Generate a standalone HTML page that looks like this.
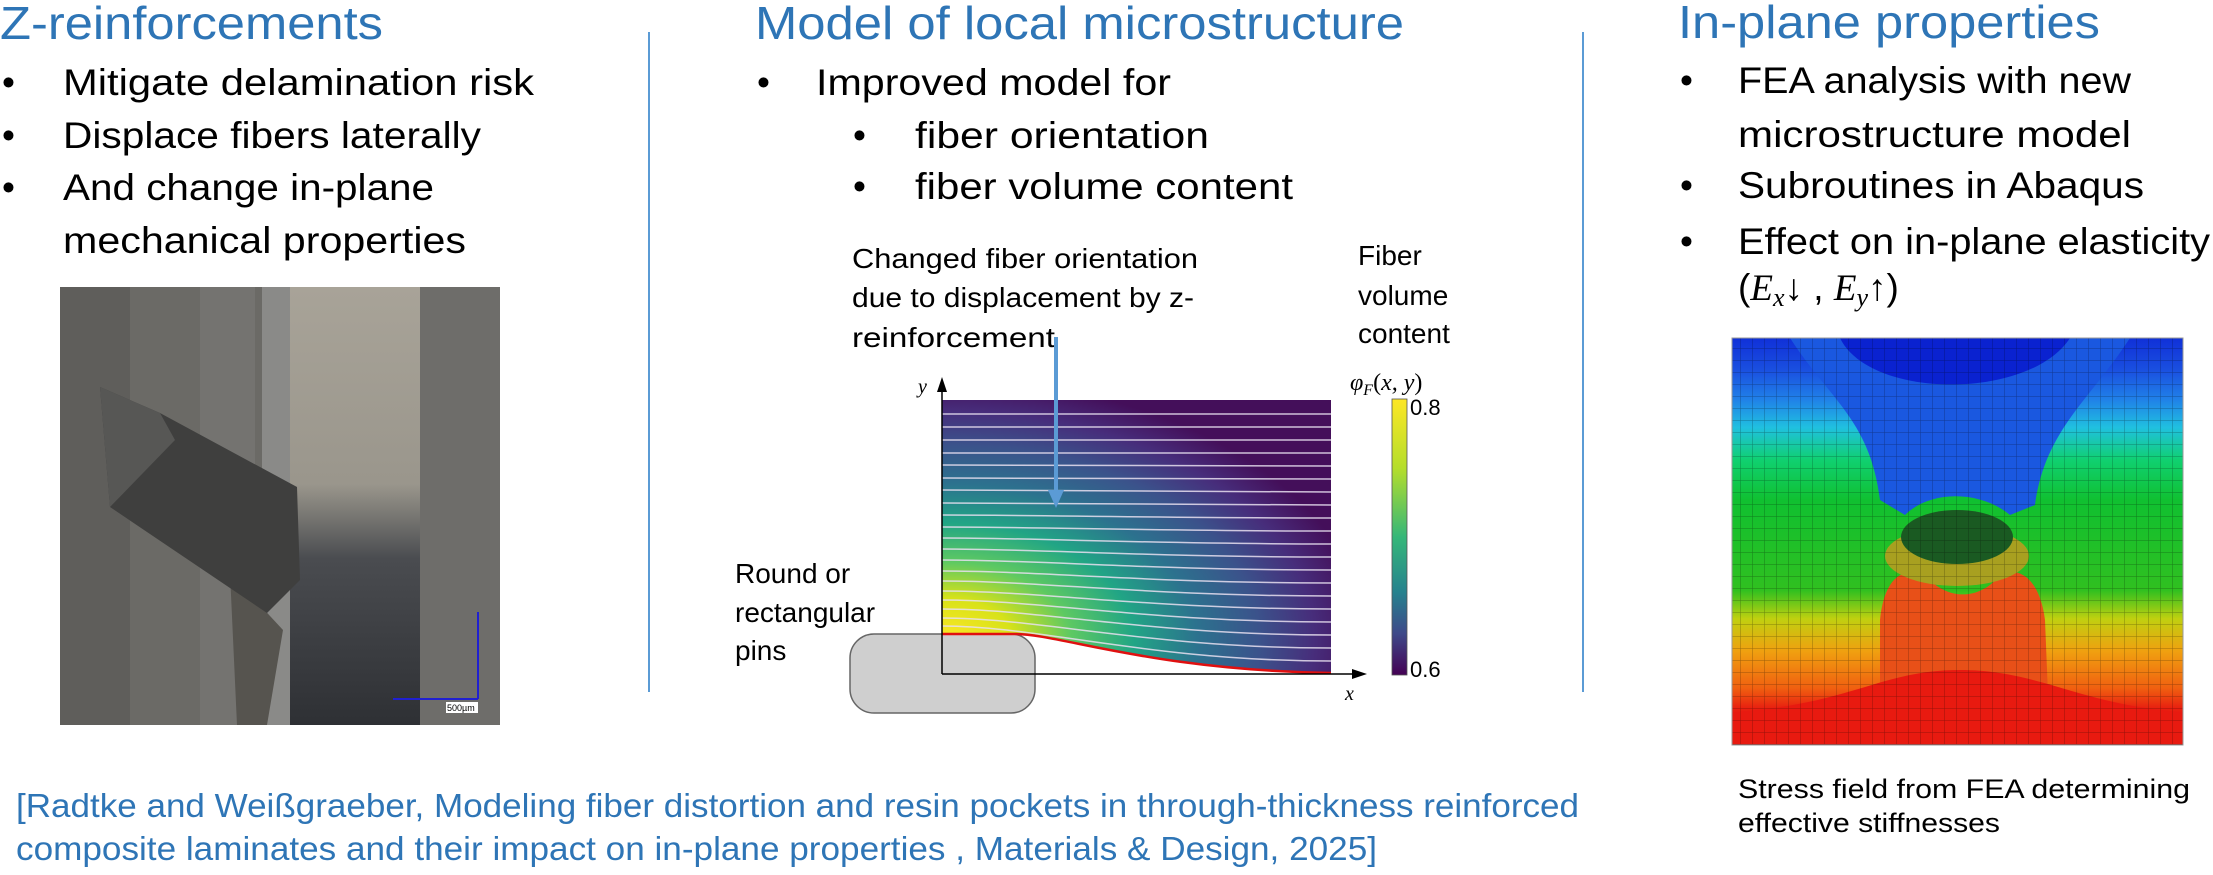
<!DOCTYPE html>
<html><head><meta charset="utf-8"><style>
html,body{margin:0;padding:0;background:#fff;}
svg{display:block;}
text{font-family:"Liberation Sans",Arial,sans-serif;}
.t{fill:#2e75b6;font-size:46px;}
.b{fill:#000;font-size:37px;}
.s{fill:#000;font-size:28px;}
.c{fill:#2e75b6;font-size:33px;}
.m{font-family:"Liberation Serif",serif;font-style:italic;}
</style></head><body>
<svg width="2213" height="875" viewBox="0 0 2213 875" xmlns="http://www.w3.org/2000/svg">
<defs>
<radialGradient id="vir" gradientUnits="userSpaceOnUse" cx="945" cy="640" r="420" gradientTransform="translate(945 640) scale(1 0.62) translate(-945 -640)">
<stop offset="0" stop-color="#fde725"/><stop offset="0.16" stop-color="#d8e219"/><stop offset="0.3" stop-color="#5ec962"/><stop offset="0.45" stop-color="#21a585"/><stop offset="0.6" stop-color="#2c728e"/><stop offset="0.75" stop-color="#3b528b"/><stop offset="0.88" stop-color="#472d7b"/><stop offset="1" stop-color="#440f5a"/>
</radialGradient>
<linearGradient id="cb" x1="0" y1="0" x2="0" y2="1">
<stop offset="0" stop-color="#fde725"/><stop offset="0.25" stop-color="#b5de2b"/><stop offset="0.5" stop-color="#35b779"/><stop offset="0.7" stop-color="#26828e"/><stop offset="0.85" stop-color="#3e4989"/><stop offset="1" stop-color="#440154"/>
</linearGradient>
<linearGradient id="fea" x1="0" y1="0" x2="0" y2="1">
<stop offset="0" stop-color="#1030d8"/><stop offset="0.08" stop-color="#1a50e0"/><stop offset="0.15" stop-color="#2080e8"/><stop offset="0.22" stop-color="#20c0e0"/><stop offset="0.3" stop-color="#10d070"/><stop offset="0.4" stop-color="#10c030"/><stop offset="0.62" stop-color="#30c020"/><stop offset="0.69" stop-color="#c0d010"/><stop offset="0.77" stop-color="#f0a010"/><stop offset="0.86" stop-color="#f06010"/><stop offset="0.91" stop-color="#e82010"/><stop offset="1" stop-color="#e01010"/>
</linearGradient>
<linearGradient id="band" x1="0" y1="0" x2="0" y2="1">
<stop offset="0" stop-color="#a8a398"/><stop offset="0.45" stop-color="#9a968c"/><stop offset="0.62" stop-color="#4a4c50"/><stop offset="1" stop-color="#2e3034"/>
</linearGradient>
<pattern id="mesh" width="12" height="12" patternUnits="userSpaceOnUse"><path d="M0 0H12M0 0V12" stroke="rgba(0,0,0,0.35)" stroke-width="1" fill="none"/></pattern>
<clipPath id="feaclip"><rect x="1732" y="338" width="451" height="407"/></clipPath>
</defs>

<!-- dividers -->
<line x1="649" y1="32" x2="649" y2="692" stroke="#5b9bd5" stroke-width="2"/>
<line x1="1583" y1="32" x2="1583" y2="692" stroke="#5b9bd5" stroke-width="2"/>

<!-- left column -->
<text class="t" x="0" y="39" textLength="383" lengthAdjust="spacingAndGlyphs">Z-reinforcements</text>
<text class="b" x="2" y="95">•</text><text class="b" x="63" y="95" textLength="471" lengthAdjust="spacingAndGlyphs">Mitigate delamination risk</text>
<text class="b" x="2" y="148">•</text><text class="b" x="63" y="148" textLength="418" lengthAdjust="spacingAndGlyphs">Displace fibers laterally</text>
<text class="b" x="2" y="200">•</text><text class="b" x="63" y="200" textLength="371" lengthAdjust="spacingAndGlyphs">And change in-plane</text>
<text class="b" x="63" y="253" textLength="403" lengthAdjust="spacingAndGlyphs">mechanical properties</text>

<!-- photo -->
<rect x="60" y="287" width="440" height="438" fill="#6b6a66"/>
<rect x="60" y="287" width="70" height="438" fill="#5f5e5b"/>
<rect x="200" y="287" width="55" height="438" fill="#747370"/>
<rect x="262" y="287" width="30" height="438" fill="#8a8a88"/>
<rect x="290" y="287" width="130" height="438" fill="url(#band)"/>
<rect x="420" y="287" width="80" height="438" fill="#6e6d6a"/>
<polygon points="230,573 283,630 267,725 237,725" fill="#56544f"/>
<polygon points="100,387 160,413 297,487 300,580 267,613 110,507" fill="#3f3f3e"/>
<polygon points="100,387 160,413 175,440 110,507" fill="#575755"/>
<line x1="478" y1="612" x2="478" y2="699" stroke="#2020d0" stroke-width="2"/>
<line x1="393" y1="699" x2="478" y2="699" stroke="#2020d0" stroke-width="2"/>
<rect x="446" y="702" width="32" height="11" fill="#fff"/>
<text x="447" y="711" font-size="9" fill="#000">500µm</text>

<!-- middle column -->
<text class="t" x="755" y="39" textLength="649" lengthAdjust="spacingAndGlyphs">Model of local microstructure</text>
<text class="b" x="757" y="95">•</text><text class="b" x="816" y="95" textLength="355" lengthAdjust="spacingAndGlyphs">Improved model for</text>
<text class="b" x="853" y="148">•</text><text class="b" x="915" y="148" textLength="294" lengthAdjust="spacingAndGlyphs">fiber orientation</text>
<text class="b" x="853" y="199">•</text><text class="b" x="915" y="199" textLength="378" lengthAdjust="spacingAndGlyphs">fiber volume content</text>

<text class="s" x="852" y="268" textLength="346" lengthAdjust="spacingAndGlyphs">Changed fiber orientation</text>
<text class="s" x="852" y="307" textLength="342" lengthAdjust="spacingAndGlyphs">due to displacement by z-</text>
<text class="s" x="852" y="347" textLength="203" lengthAdjust="spacingAndGlyphs">reinforcement</text>
<text class="s" x="1358" y="265">Fiber</text>
<text class="s" x="1358" y="305">volume</text>
<text class="s" x="1358" y="343">content</text>
<text class="s" x="735" y="583">Round or</text>
<text class="s" x="735" y="622">rectangular</text>
<text class="s" x="735" y="660">pins</text>

<!-- pin -->
<rect x="850" y="634" width="185" height="79" rx="24" fill="#cfcfcf" stroke="#666" stroke-width="1.5"/>
<!-- plot -->
<path d="M942,400 L1331,400 L1331,673 C1150,670 1060,634 1015,634 L942,634 Z" fill="url(#vir)"/>
<g stroke="#e8e0f0" stroke-width="1.5" fill="none" opacity="0.85">
<path d="M942,414 H1331"/><path d="M942,427 H1331"/><path d="M942,440 H1331"/><path d="M942,453 H1331"/>
<path d="M942,465 C1040,465 1150,466 1331,466"/>
<path d="M942,478 C1040,478 1150,479 1331,479"/>
<path d="M942,490 C1040,490 1150,492 1331,492"/>
<path d="M942,503 C1040,503 1150,505 1331,505"/>
<path d="M942,515 C1040,515 1150,518 1331,518"/>
<path d="M942,527 C1040,527 1150,531 1331,531"/>
<path d="M942,538 C1040,538 1150,544 1331,544"/>
<path d="M942,549 C1040,549 1150,557 1331,557"/>
<path d="M942,560 C1040,560 1150,570 1331,570"/>
<path d="M942,571 C1040,571 1150,583 1331,583"/>
<path d="M942,581 C1040,581 1150,596 1331,596"/>
<path d="M942,591 C1040,591 1150,609 1331,609"/>
<path d="M942,600 C1040,600 1150,622 1331,622"/>
<path d="M942,609 C1040,609 1150,635 1331,635"/>
<path d="M942,618 C1040,618 1150,648 1331,648"/>
<path d="M942,626 C1040,626 1150,661 1331,661"/>
</g>
<path d="M942,634 L1015,634 C1060,634 1150,670 1331,673" stroke="#e01010" stroke-width="2.5" fill="none"/>
<line x1="942" y1="674" x2="942" y2="388" stroke="#000" stroke-width="1.5"/>
<polygon points="942,377 937,392 947,392" fill="#000"/>
<line x1="942" y1="674" x2="1357" y2="674" stroke="#000" stroke-width="1.5"/>
<polygon points="1367,674 1352,669 1352,679" fill="#000"/>
<text class="m" x="918" y="393" font-size="20">y</text>
<text class="m" x="1345" y="700" font-size="20">x</text>
<!-- colorbar -->
<rect x="1392" y="399" width="15" height="276" fill="url(#cb)" stroke="#555" stroke-width="0.8"/>
<text class="m" x="1350" y="390" font-size="24">φ<tspan font-size="16" dy="5">F</tspan><tspan dy="-5" font-style="normal">(</tspan>x, y<tspan font-style="normal">)</tspan></text>
<text x="1410" y="415" font-family="Liberation Serif,serif" font-size="22">0.8</text>
<text x="1410" y="677" font-family="Liberation Serif,serif" font-size="22">0.6</text>
<!-- blue arrow -->
<line x1="1056" y1="337" x2="1056" y2="495" stroke="#5b9bd5" stroke-width="4"/>
<polygon points="1056,508 1048,490 1064,490" fill="#5b9bd5"/>

<!-- right column -->
<text class="t" x="1678" y="38" textLength="422" lengthAdjust="spacingAndGlyphs">In-plane properties</text>
<text class="b" x="1680" y="93">•</text><text class="b" x="1738" y="93" textLength="393" lengthAdjust="spacingAndGlyphs">FEA analysis with new</text>
<text class="b" x="1738" y="147" textLength="393" lengthAdjust="spacingAndGlyphs">microstructure model</text>
<text class="b" x="1680" y="198">•</text><text class="b" x="1738" y="198" textLength="406" lengthAdjust="spacingAndGlyphs">Subroutines in Abaqus</text>
<text class="b" x="1680" y="254">•</text><text class="b" x="1738" y="254" textLength="472" lengthAdjust="spacingAndGlyphs">Effect on in-plane elasticity</text>
<text class="b" x="1738" y="300">(<tspan class="m">E</tspan><tspan class="m" font-size="26" dy="6">x</tspan><tspan dy="-6">↓ , </tspan><tspan class="m">E</tspan><tspan class="m" font-size="26" dy="6">y</tspan><tspan dy="-6">↑)</tspan></text>

<!-- FEA -->
<g clip-path="url(#feaclip)">
<rect x="1732" y="338" width="451" height="407" fill="url(#fea)"/>
<path d="M1790,338 C1830,400 1870,420 1880,500 L1905,515 C1930,490 1980,490 2010,515 L2035,505 C2045,430 2090,400 2130,338 Z" fill="#1a58e0"/>
<path d="M1840,338 C1870,400 2030,400 2070,338 Z" fill="#0a22d0"/>
<path d="M1880,745 L1880,620 C1885,570 1910,565 1930,580 C1950,600 1980,600 2000,575 C2020,565 2040,580 2045,620 L2050,745 Z" fill="#e85018"/>
<path d="M1732,745 L1732,712 C1850,705 1880,670 1960,670 C2040,670 2080,705 2183,712 L2183,745 Z" fill="#e81a10"/>
<ellipse cx="1957" cy="556" rx="72" ry="30" fill="#a8a020"/>
<ellipse cx="1957" cy="537" rx="56" ry="27" fill="#1a5a22"/>
<rect x="1732" y="338" width="451" height="407" fill="url(#mesh)"/>
</g>
<rect x="1732" y="338" width="451" height="407" fill="none" stroke="#999" stroke-width="1"/>
<text x="1738" y="798" font-size="27" textLength="452" lengthAdjust="spacingAndGlyphs">Stress field from FEA determining</text>
<text x="1738" y="832" font-size="27" textLength="262" lengthAdjust="spacingAndGlyphs">effective stiffnesses</text>

<!-- citation -->
<text class="c" x="16" y="817" textLength="1563" lengthAdjust="spacingAndGlyphs">[Radtke and Weißgraeber, Modeling fiber distortion and resin pockets in through-thickness reinforced</text>
<text class="c" x="16" y="860" textLength="1361" lengthAdjust="spacingAndGlyphs">composite laminates and their impact on in-plane properties , Materials &amp; Design, 2025]</text>
</svg>
</body></html>
